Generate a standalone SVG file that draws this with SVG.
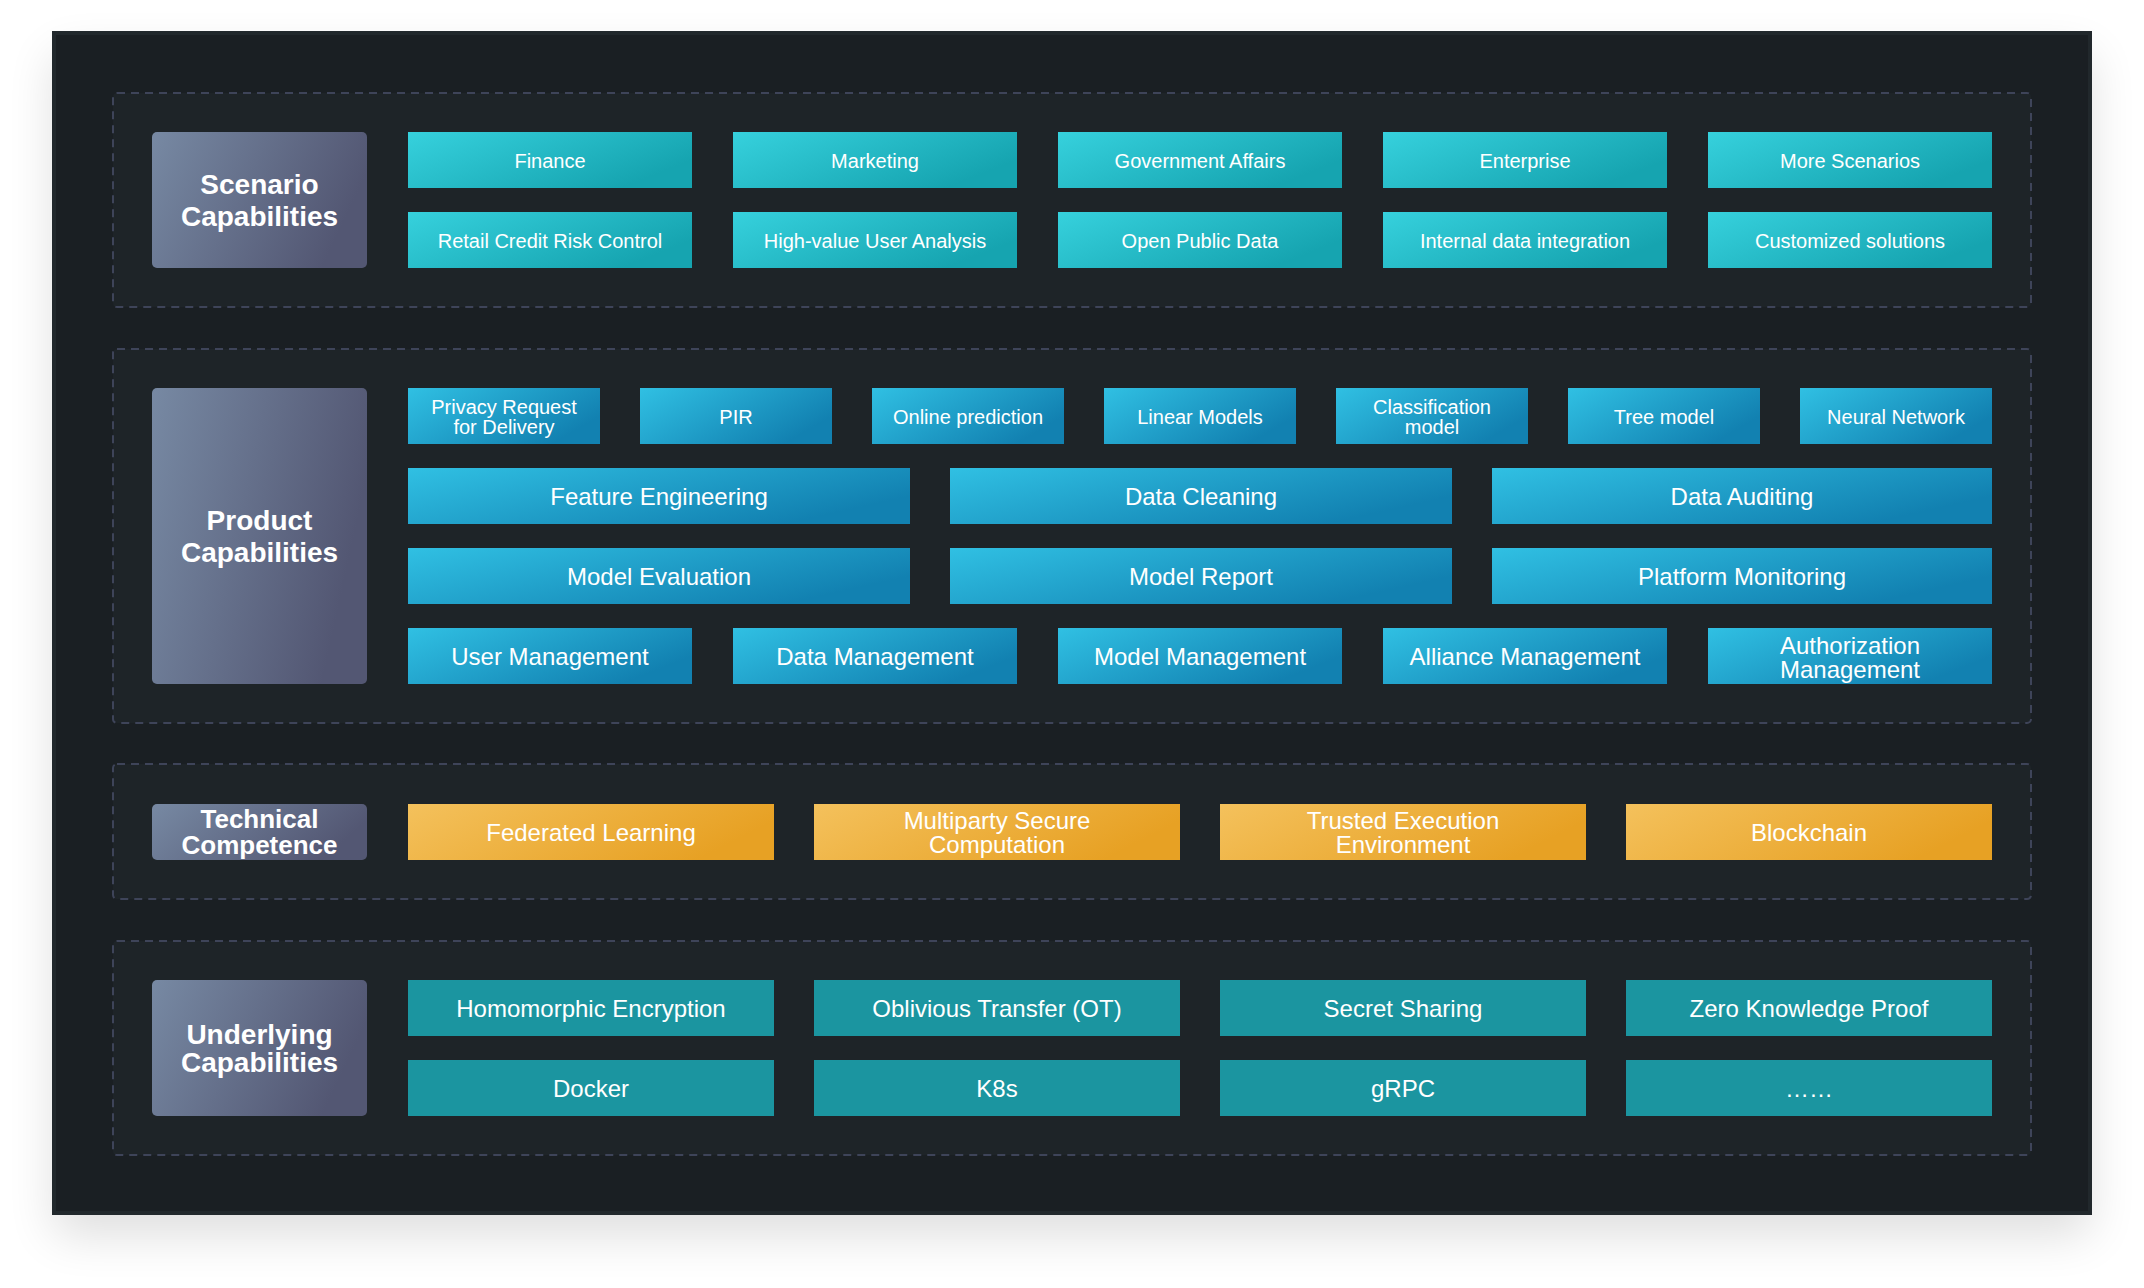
<svg xmlns="http://www.w3.org/2000/svg" width="2144" height="1288" viewBox="0 0 2144 1288">
<defs>
<linearGradient id="gLabel" x1="0" y1="0" x2="1" y2="0.3"><stop offset="0" stop-color="#7789a3"/><stop offset="1" stop-color="#535773"/></linearGradient>
<linearGradient id="gScen" x1="0" y1="0" x2="1" y2="0.5"><stop offset="0" stop-color="#36d1dd"/><stop offset="1" stop-color="#16a4b0"/></linearGradient>
<linearGradient id="gProd" x1="0" y1="0" x2="1" y2="0.5"><stop offset="0" stop-color="#30c0e3"/><stop offset="1" stop-color="#1281b1"/></linearGradient>
<linearGradient id="gTech" x1="0" y1="0" x2="1" y2="0.3"><stop offset="0" stop-color="#f4c15c"/><stop offset="1" stop-color="#e7a124"/></linearGradient>
<filter id="shadow" x="-10%" y="-10%" width="120%" height="125%"><feGaussianBlur stdDeviation="24"/></filter>
</defs>
<style>
.sec{fill:#1e2428;stroke:#3e4459;stroke-width:2;stroke-dasharray:8 6}
.lbl{fill:url(#gLabel)}
.sc{fill:url(#gScen)}
.pr{fill:url(#gProd)}
.te{fill:url(#gTech)}
.un{fill:#1b95a0}
text{font-family:"Liberation Sans",Arial,Helvetica,sans-serif;fill:#ffffff;text-anchor:middle}
.t20{font-size:20px}
.t24{font-size:24px}
.b28{font-size:28px;font-weight:bold}
.b26{font-size:26px;font-weight:bold}
</style>
<rect width="2144" height="1288" fill="#ffffff"/>
<rect x="54" y="55" width="2036" height="1180" fill="#000000" opacity="0.13" filter="url(#shadow)"/>
<rect id="panel" x="54" y="33" width="2036" height="1180" fill="#1a1f23" stroke="#21282c" stroke-width="4"/>

<g id="sections">
<rect class="sec" x="113" y="93" width="1918" height="214" rx="4"/>
<rect class="sec" x="113" y="349" width="1918" height="374" rx="4"/>
<rect class="sec" x="113" y="764" width="1918" height="135" rx="4"/>
<rect class="sec" x="113" y="941" width="1918" height="214" rx="4"/>
</g>

<g id="connectors"/>

<!-- Scenario -->
<g id="label-scenario"><rect class="lbl" x="152" y="132" width="215" height="136" rx="5"/><text class="b28" x="259.5" y="194">Scenario</text><text class="b28" x="259.5" y="226">Capabilities</text></g>
<g id="s-finance"><rect class="sc" x="408" y="132" width="284" height="56"/><text class="t20" x="550" y="168">Finance</text></g>
<g id="s-marketing"><rect class="sc" x="733" y="132" width="284" height="56"/><text class="t20" x="875" y="168">Marketing</text></g>
<g id="s-gov"><rect class="sc" x="1058" y="132" width="284" height="56"/><text class="t20" x="1200" y="168">Government Affairs</text></g>
<g id="s-enterprise"><rect class="sc" x="1383" y="132" width="284" height="56"/><text class="t20" x="1525" y="168">Enterprise</text></g>
<g id="s-more"><rect class="sc" x="1708" y="132" width="284" height="56"/><text class="t20" x="1850" y="168">More Scenarios</text></g>
<g id="s-retail"><rect class="sc" x="408" y="212" width="284" height="56"/><text class="t20" x="550" y="248">Retail Credit Risk Control</text></g>
<g id="s-highvalue"><rect class="sc" x="733" y="212" width="284" height="56"/><text class="t20" x="875" y="248">High-value User Analysis</text></g>
<g id="s-open"><rect class="sc" x="1058" y="212" width="284" height="56"/><text class="t20" x="1200" y="248">Open Public Data</text></g>
<g id="s-internal"><rect class="sc" x="1383" y="212" width="284" height="56"/><text class="t20" x="1525" y="248">Internal data integration</text></g>
<g id="s-custom"><rect class="sc" x="1708" y="212" width="284" height="56"/><text class="t20" x="1850" y="248">Customized solutions</text></g>

<!-- Product -->
<g id="label-product"><rect class="lbl" x="152" y="388" width="215" height="296" rx="5"/><text class="b28" x="259.5" y="530">Product</text><text class="b28" x="259.5" y="562">Capabilities</text></g>
<g id="p-privacy"><rect class="pr" x="408" y="388" width="192" height="56"/><text class="t20" x="504" y="414">Privacy Request</text><text class="t20" x="504" y="434">for Delivery</text></g>
<g id="p-pir"><rect class="pr" x="640" y="388" width="192" height="56"/><text class="t20" x="736" y="424">PIR</text></g>
<g id="p-online"><rect class="pr" x="872" y="388" width="192" height="56"/><text class="t20" x="968" y="424">Online prediction</text></g>
<g id="p-linear"><rect class="pr" x="1104" y="388" width="192" height="56"/><text class="t20" x="1200" y="424">Linear Models</text></g>
<g id="p-class"><rect class="pr" x="1336" y="388" width="192" height="56"/><text class="t20" x="1432" y="414">Classification</text><text class="t20" x="1432" y="434">model</text></g>
<g id="p-tree"><rect class="pr" x="1568" y="388" width="192" height="56"/><text class="t20" x="1664" y="424">Tree model</text></g>
<g id="p-neural"><rect class="pr" x="1800" y="388" width="192" height="56"/><text class="t20" x="1896" y="424">Neural Network</text></g>
<g id="p-feature"><rect class="pr" x="408" y="468" width="502" height="56"/><text class="t24" x="659" y="505">Feature Engineering</text></g>
<g id="p-cleaning"><rect class="pr" x="950" y="468" width="502" height="56"/><text class="t24" x="1201" y="505">Data Cleaning</text></g>
<g id="p-auditing"><rect class="pr" x="1492" y="468" width="500" height="56"/><text class="t24" x="1742" y="505">Data Auditing</text></g>
<g id="p-evaluation"><rect class="pr" x="408" y="548" width="502" height="56"/><text class="t24" x="659" y="585">Model Evaluation</text></g>
<g id="p-report"><rect class="pr" x="950" y="548" width="502" height="56"/><text class="t24" x="1201" y="585">Model Report</text></g>
<g id="p-monitoring"><rect class="pr" x="1492" y="548" width="500" height="56"/><text class="t24" x="1742" y="585">Platform Monitoring</text></g>
<g id="p-user"><rect class="pr" x="408" y="628" width="284" height="56"/><text class="t24" x="550" y="665">User Management</text></g>
<g id="p-data"><rect class="pr" x="733" y="628" width="284" height="56"/><text class="t24" x="875" y="665">Data Management</text></g>
<g id="p-model"><rect class="pr" x="1058" y="628" width="284" height="56"/><text class="t24" x="1200" y="665">Model Management</text></g>
<g id="p-alliance"><rect class="pr" x="1383" y="628" width="284" height="56"/><text class="t24" x="1525" y="665">Alliance Management</text></g>
<g id="p-auth"><rect class="pr" x="1708" y="628" width="284" height="56"/><text class="t24" x="1850" y="654">Authorization</text><text class="t24" x="1850" y="678">Management</text></g>

<!-- Technical -->
<g id="label-technical"><rect class="lbl" x="152" y="804" width="215" height="56" rx="5"/><text class="b26" x="259.5" y="828">Technical</text><text class="b26" x="259.5" y="854">Competence</text></g>
<g id="t-federated"><rect class="te" x="408" y="804" width="366" height="56"/><text class="t24" x="591" y="841">Federated Learning</text></g>
<g id="t-mpc"><rect class="te" x="814" y="804" width="366" height="56"/><text class="t24" x="997" y="829">Multiparty Secure</text><text class="t24" x="997" y="853">Computation</text></g>
<g id="t-tee"><rect class="te" x="1220" y="804" width="366" height="56"/><text class="t24" x="1403" y="829">Trusted Execution</text><text class="t24" x="1403" y="853">Environment</text></g>
<g id="t-blockchain"><rect class="te" x="1626" y="804" width="366" height="56"/><text class="t24" x="1809" y="841">Blockchain</text></g>

<!-- Underlying -->
<g id="label-underlying"><rect class="lbl" x="152" y="980" width="215" height="136" rx="5"/><text class="b28" x="259.5" y="1044">Underlying</text><text class="b28" x="259.5" y="1072">Capabilities</text></g>
<g id="u-he"><rect class="un" x="408" y="980" width="366" height="56"/><text class="t24" x="591" y="1017">Homomorphic Encryption</text></g>
<g id="u-ot"><rect class="un" x="814" y="980" width="366" height="56"/><text class="t24" x="997" y="1017">Oblivious Transfer (OT)</text></g>
<g id="u-ss"><rect class="un" x="1220" y="980" width="366" height="56"/><text class="t24" x="1403" y="1017">Secret Sharing</text></g>
<g id="u-zkp"><rect class="un" x="1626" y="980" width="366" height="56"/><text class="t24" x="1809" y="1017">Zero Knowledge Proof</text></g>
<g id="u-docker"><rect class="un" x="408" y="1060" width="366" height="56"/><text class="t24" x="591" y="1097">Docker</text></g>
<g id="u-k8s"><rect class="un" x="814" y="1060" width="366" height="56"/><text class="t24" x="997" y="1097">K8s</text></g>
<g id="u-grpc"><rect class="un" x="1220" y="1060" width="366" height="56"/><text class="t24" x="1403" y="1097">gRPC</text></g>
<g id="u-more"><rect class="un" x="1626" y="1060" width="366" height="56"/><text class="t24" x="1809" y="1097">……</text></g>
</svg>
